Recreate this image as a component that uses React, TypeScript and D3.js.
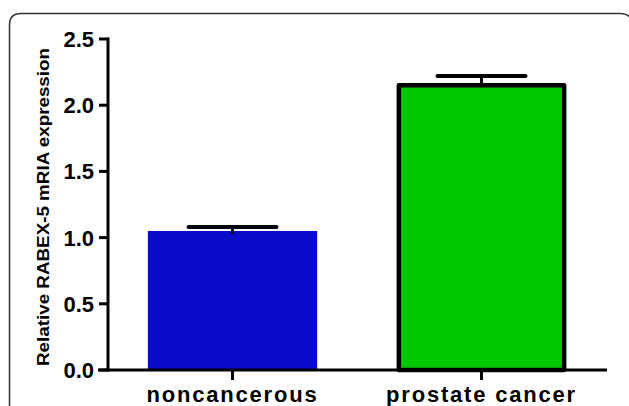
import React from "react";
import * as d3 from "d3";

const categories = ["noncancerous", "prostate cancer"];
const means = [1.05, 2.15];
const errors = [0.03, 0.07];
const colors = ["#0b0bcc", "#00c800"];
const yTicks = [0.0, 0.5, 1.0, 1.5, 2.0, 2.5];

const W = 629;
const H = 406;

export default function App() {
  const y = d3.scaleLinear().domain([0, 2.5]).range([370, 39]);
  const x = d3
    .scaleBand<string>()
    .domain(categories)
    .range([108, 606])
    .paddingInner(0.32)
    .paddingOuter(0.16);
  const bw = x.bandwidth();
  const capW = 88;
  const font = "'Liberation Sans', Arial, sans-serif";

  return (
    <svg
      width={W}
      height={H}
      style={{ position: "absolute", left: 0, top: 0, background: "#fff" }}
    >
      {/* frame */}
      <path
        d={`M9.5,${H + 5} L9.5,25 Q9.5,13.5 21,13.5 L620,13.5 Q632,13.5 632,25 L632,${H + 5}`}
        fill="none"
        stroke="#333"
        strokeWidth={1.5}
      />
      {/* bars */}
      {categories.map((c, i) => {
        const x0 = x(c)!;
        const cx = x0 + bw / 2;
        const top = y(means[i]);
        const errTop = y(means[i] + errors[i]);
        const isGreen = i === 1;
        return (
          <g key={c}>
            <line
              x1={cx}
              x2={cx}
              y1={errTop}
              y2={top + (isGreen ? 0 : 3)}
              stroke="#000"
              strokeWidth={3}
            />
            {isGreen ? (
              <rect
                x={x0 + 2}
                y={top}
                width={bw - 4}
                height={y(0) - top}
                fill={colors[i]}
                stroke="#000"
                strokeWidth={4.5}
                strokeLinejoin="round"
              />
            ) : (
              <rect
                x={x0}
                y={top}
                width={bw}
                height={y(0) - top}
                fill={colors[i]}
              />
            )}
            {!isGreen && (
              <line
                x1={cx}
                x2={cx}
                y1={errTop}
                y2={top + 3}
                stroke="#000"
                strokeWidth={3}
              />
            )}
            <line
              x1={cx - capW / 2}
              x2={cx + capW / 2}
              y1={errTop}
              y2={errTop}
              stroke="#000"
              strokeWidth={4}
              strokeLinecap="round"
            />
          </g>
        );
      })}
      {/* y axis */}
      <line x1={108} x2={108} y1={y(2.5) - 1.5} y2={y(0) + 1.5} stroke="#000" strokeWidth={3} />
      {yTicks.map((t) => (
        <g key={t}>
          <line x1={99} x2={108} y1={y(t)} y2={y(t)} stroke="#000" strokeWidth={3} />
          <text
            x={94}
            y={y(t)}
            dy="0.36em"
            textAnchor="end"
            fontFamily={font}
            fontWeight="bold"
            fontSize={22}
            fill="#000"
          >
            {t.toFixed(1)}
          </text>
        </g>
      ))}
      {/* x axis */}
      <line x1={98} x2={607} y1={y(0)} y2={y(0)} stroke="#000" strokeWidth={3} />
      {categories.map((c) => {
        const cx = x(c)! + bw / 2;
        return (
          <g key={c}>
            <line x1={cx} x2={cx} y1={y(0)} y2={y(0) + 10} stroke="#000" strokeWidth={3} />
            <text
              x={cx}
              y={402}
              textAnchor="middle"
              fontFamily={font}
              fontWeight="bold"
              fontSize={22}
              letterSpacing={1.8}
              fill="#000"
            >
              {c}
            </text>
          </g>
        );
      })}
      {/* y label */}
      <text
        transform={`translate(49,${207}) rotate(-90)`}
        textAnchor="middle"
        fontFamily={font}
        fontWeight="bold"
        fontSize={17}
        textLength={318}
        lengthAdjust="spacingAndGlyphs"
        fill="#000"
      >
        Relative RABEX-5 mRIA expression
      </text>
    </svg>
  );
}
